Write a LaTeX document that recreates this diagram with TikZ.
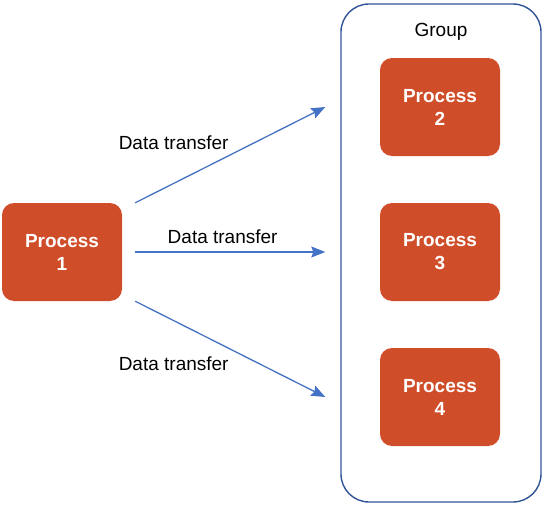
\documentclass[tikz,border=0pt]{standalone}
\usepackage{fontspec}
\setmainfont{Liberation Sans}
\usetikzlibrary{arrows.meta}
\definecolor{procfill}{RGB}{208,77,41}
\definecolor{grpline}{RGB}{47,84,150}
\definecolor{arrline}{RGB}{68,114,196}
\tikzset{>={Stealth[length=14pt,width=11pt,inset=2pt]},
  process/.style={fill=procfill,rounded corners=12pt,minimum width=120pt,minimum height=98pt,
    text=white,align=center,font=\fontsize{19}{23}\selectfont\bfseries},
  group/.style={draw=grpline,line width=1.4pt,rounded corners=28pt,minimum width=200pt,minimum height=498pt},
  transfer/.style={->,draw=arrline,line width=1.3pt},
  lbl/.style={font=\fontsize{19}{22}\selectfont,inner sep=2pt}}

\begin{document}
\begin{tikzpicture}[x=1pt,y=-1pt]
    \useasboundingbox (0,0) rectangle (542,506);
    \node [group] (grp) at (441,253) {};
    \node [lbl] (grplabel) at (441,32) {Group};
    \node [process] (p1) at (62,252) {Process\\1};
    \node [process] (p2) at (440,107) {Process\\2};
    \node [process] (p3) at (440,252) {Process\\3};
    \node [process] (p4) at (440,397) {Process\\4};
    % arrow ends, a little off the boxes
    \path (p1.north east) ++(13pt,0) coordinate (out2);
    \path (p1.east) ++(13pt,0) coordinate (out3);
    \path (p1.south east) ++(13pt,0) coordinate (out4);
    \path (grp.west |- p2) ++(-15pt,0) coordinate (in2);
    \path (grp.west |- p3) ++(-15pt,0) coordinate (in3);
    \path (grp.west |- p4) ++(-15pt,0) coordinate (in4);
    \draw [transfer] (out2) -- node[lbl,above left,yshift=3pt,xshift=1pt] {Data transfer} (in2);
    \draw [transfer] (out3) -- node[lbl,above=6pt,pos=0.46] {Data transfer} (in3);
    \draw [transfer] (out4) -- node[lbl,below left,yshift=-5pt,xshift=1pt] {Data transfer} (in4);
  \end{tikzpicture}
\end{document}
